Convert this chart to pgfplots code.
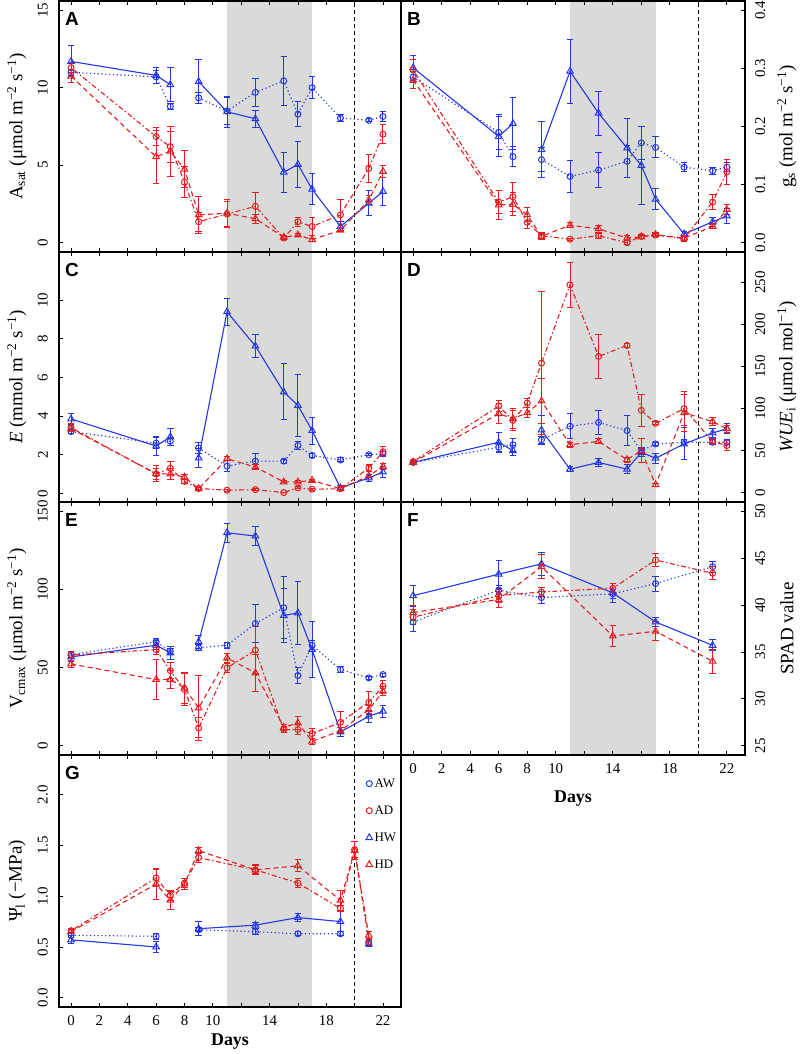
\documentclass[border=0pt]{standalone}
\usepackage{fontspec}
\setmainfont{Liberation Serif}
\newfontfamily\lsans{Liberation Sans}
\usepackage{pgfplots}
\pgfplotsset{compat=1.18}

\definecolor{cb}{RGB}{35,55,228}
\definecolor{cr}{RGB}{228,30,30}
\definecolor{band}{RGB}{218,218,218}

\tikzset{letter/.style={anchor=north west, xshift=6bp, yshift=-11bp, inner sep=0pt, font=\lsans\bfseries\fontsize{19}{19}\selectfont}}

\pgfplotsset{
  panel/.style={
    scale only axis, xmin=-0.85, xmax=23.27,
    axis on top, clip=true, unbounded coords=jump,
    tick align=inside, major tick length=4bp,
    xtick={0,2,...,22}, xticklabels={}, xtick pos=both,
    axis line style={line width=1.2bp, black},
    tick style={line width=0.8bp, black},
    every tick label/.append style={font=\fontsize{15}{15}\selectfont},
    /pgf/number format/assume math mode=true,
  },
  leftp/.style={panel, ytick pos=left,
    yticklabel style={rotate=90, anchor=south, inner sep=0pt}, yticklabel shift=11bp,
    every axis y label/.style={at={([xshift=-42bp]rel axis cs:0,0.5)}, rotate=90, anchor=center, font=\fontsize{19}{19}\selectfont}},
  rightp/.style={panel, ytick pos=right, yticklabel pos=right,
    yticklabel style={rotate=90, anchor=north, inner sep=0pt}, yticklabel shift=10bp,
    every axis y label/.style={at={([xshift=42bp]rel axis cs:1,0.5)}, rotate=90, anchor=center, font=\fontsize{19}{19}\selectfont}},
  bottomx/.style={xticklabels={0,2,4,6,8,10,,14,,18,,22},
    xticklabel style={anchor=north, inner sep=0pt}, xticklabel shift=8bp, xlabel={Days}},
  ser/.style={line width=1.1bp, mark size=3bp,
    error bars/y dir=both, error bars/y explicit,
    error bars/error bar style={solid, line width=1bp},
    error bars/error mark options={solid, line width=1bp, mark size=3.2bp, rotate=90}},
  aw/.style={ser, color=cb, dash pattern=on 1.2bp off 2.6bp, mark=o, mark options={solid, line width=1bp}, error bars/error bar style={color=cb}},
  ad/.style={ser, color=cr, dash pattern=on 1.5bp off 2.5bp on 5bp off 2.5bp, mark=o, mark options={solid, line width=1bp}, error bars/error bar style={color=cr}},
  hw/.style={ser, color=cb, solid, mark=triangle, mark size=3.8bp, mark options={solid, line width=1bp}, error bars/error bar style={color=cb}},
  hd/.style={ser, color=cr, dash pattern=on 5bp off 3.5bp, mark=triangle, mark size=3.8bp, mark options={solid, line width=1bp}, error bars/error bar style={color=cr}},
}

\newcommand{\decor}{%
  \fill[band] ({axis cs:11,0} |- {rel axis cs:0,0}) rectangle ({axis cs:17,0} |- {rel axis cs:0,1});
  \draw[black, line width=1bp, dash pattern=on 4bp off 3bp] ({axis cs:20,0} |- {rel axis cs:0,0}) -- ({axis cs:20,0} |- {rel axis cs:0,1});
}

\begin{document}
\begin{tikzpicture}
\path[use as bounding box] (0,0) rectangle (800bp,-1054bp);

% ---------------- A ----------------
\begin{axis}[leftp, at={(59bp,-1bp)}, anchor=north west, width=342bp, height=251bp,
  ymin=-0.6, ymax=15.6, ytick={0,5,10,15},
  ylabel={A\textsubscript{sat} (μmol m\textsuperscript{−2} s\textsuperscript{−1})}]
\decor
\addplot[aw] table[x=d,y=v,y error=e] {
d v e
0 11.0 0.2
6 10.7 0.4
7 8.8 0.2
8 nan 0
9 9.35 0.35
11 8.5 0.9
13 9.7 0.9
15 10.45 1.6
16 8.3 0.8
17 10.0 0.7
19 8.05 0.2
21 7.9 0.1
22 8.15 0.3
};
\addplot[hw] table[x=d,y=v,y error=e] {
d v e
0 11.7 1.0
6 10.8 0.5
7 10.2 1.1
8 nan 0
9 10.4 1.4
11 8.45 1.0
13 8.0 0.55
15 4.55 1.3
16 5.05 1.5
17 3.45 1.0
19 1.05 0.3
21 2.55 0.8
22 3.3 0.9
};
\addplot[ad] table[x=d,y=v,y error=e] {
d v e
0 11.3 0.3
6 6.85 0.6
7 6.2 1.0
8 3.9 1.0
9 1.35 0.6
11 1.85 0.8
13 2.35 0.9
15 0.3 0.1
16 1.35 0.3
17 1.05 0.6
19 1.8 1.0
21 4.8 0.9
22 7.0 0.6
};
\addplot[hd] table[x=d,y=v,y error=e] {
d v e
0 10.75 0.4
6 5.55 1.7
7 5.9 1.6
8 4.75 1.2
9 1.8 1.2
11 1.9 0.9
13 1.55 0.3
15 0.35 0.1
16 0.5 0.1
17 0.2 0.1
19 0.8 0.1
21 2.75 0.3
22 4.6 0.4
};
\node[letter] at (rel axis cs:0,1) {A};
\end{axis}

% ---------------- B ----------------
\begin{axis}[rightp, at={(401bp,-1bp)}, anchor=north west, width=344bp, height=251bp,
  ymin=-0.016, ymax=0.416, ytick={0,0.1,0.2,0.3,0.4}, yticklabels={0.0,0.1,0.2,0.3,0.4},
  ylabel={g\textsubscript{s} (mol m\textsuperscript{−2} s\textsuperscript{−1})}]
\decor
\addplot[aw] table[x=d,y=v,y error=e] {
d v e
0 0.285 0.01
6 0.19 0.03
7 0.148 0.017
8 nan 0
9 0.143 0.02
11 0.114 0.028
13 0.125 0.03
15 0.14 0.027
16 0.172 0.028
17 0.164 0.018
19 0.13 0.008
21 0.124 0.006
22 0.13 0.008
};
\addplot[hw] table[x=d,y=v,y error=e] {
d v e
0 0.301 0.022
6 0.183 0.035
7 0.205 0.045
8 nan 0
9 0.16 0.048
11 0.295 0.055
13 0.223 0.038
15 0.163 0.05
16 0.133 0.067
17 0.075 0.018
19 0.015 0.005
21 0.036 0.008
22 0.046 0.013
};
\addplot[ad] table[x=d,y=v,y error=e] {
d v e
0 0.297 0.018
6 0.07 0.02
7 0.079 0.025
8 0.035 0.01
9 0.012 0.005
11 0.006 0.002
13 0.012 0.004
15 0.0 0.003
16 0.011 0.003
17 0.013 0.003
19 0.007 0.005
21 0.07 0.013
22 0.122 0.022
};
\addplot[hd] table[x=d,y=v,y error=e] {
d v e
0 0.28 0.015
6 0.065 0.025
7 0.066 0.02
8 0.048 0.012
9 0.011 0.005
11 0.03 0.004
13 0.024 0.006
15 0.008 0.005
16 0.01 0.003
17 0.014 0.004
19 0.008 0.004
21 0.028 0.003
22 0.057 0.008
};
\node[letter] at (rel axis cs:0,1) {B};
\end{axis}

% ---------------- C ----------------
\begin{axis}[leftp, at={(59bp,-252bp)}, anchor=north west, width=342bp, height=250bp,
  ymin=-0.45, ymax=12.5, ytick={0,2,4,6,8,10},
  ylabel={\textit{E} (mmol m\textsuperscript{−2} s\textsuperscript{−1})}]
\decor
\addplot[aw] table[x=d,y=v,y error=e] {
d v e
0 3.2 0.1
6 2.6 0.3
7 2.7 0.2
8 nan 0
9 2.35 0.3
11 1.41 0.3
13 1.67 0.4
15 1.67 0.1
16 2.48 0.2
17 1.96 0.1
19 1.73 0.1
21 2.0 0.05
22 2.05 0.1
};
\addplot[hw] table[x=d,y=v,y error=e] {
d v e
0 3.85 0.3
6 2.45 0.5
7 2.92 0.45
8 nan 0
9 1.83 0.5
11 9.4 0.7
13 7.63 0.6
15 5.25 1.45
16 4.55 1.6
17 3.25 0.7
19 0.28 0.1
21 0.8 0.2
22 1.1 0.3
};
\addplot[ad] table[x=d,y=v,y error=e] {
d v e
0 3.4 0.2
6 1.0 0.3
7 1.3 0.35
8 0.62 0.1
9 0.25 0.05
11 0.16 0.05
13 0.19 0.05
15 0.04 0.02
16 0.28 0.05
17 0.21 0.05
19 0.24 0.05
21 1.31 0.2
22 2.15 0.25
};
\addplot[hd] table[x=d,y=v,y error=e] {
d v e
0 3.35 0.15
6 1.02 0.4
7 1.0 0.3
8 0.84 0.15
9 0.24 0.05
11 1.79 0.1
13 1.36 0.15
15 0.59 0.05
16 0.59 0.05
17 0.67 0.05
19 0.24 0.05
21 0.9 0.1
22 1.39 0.15
};
\node[letter] at (rel axis cs:0,1) {C};
\end{axis}

% ---------------- D ----------------
\begin{axis}[rightp, at={(401bp,-252bp)}, anchor=north west, width=344bp, height=250bp,
  ymin=-11, ymax=286, ytick={0,50,100,150,200,250},
  ylabel={\textit{WUE}\textsubscript{i} (μmol mol\textsuperscript{−1})}]
\decor
\addplot[aw] table[x=d,y=v,y error=e] {
d v e
0 36 1
6 54 5
7 57 8
8 nan 0
9 63 4
11 79 15
13 83.5 14
15 73.8 18
16 49.6 4
17 58 2
19 60 3
21 60 3
22 60 3
};
\addplot[hw] table[x=d,y=v,y error=e] {
d v e
0 36 1
6 60 12
7 50 6
8 nan 0
9 74.5 17
11 28 3
13 36 5
15 28 5
16 48 5
17 41 6
19 58 19
21 71 5
22 76 6
};
\addplot[ad] table[x=d,y=v,y error=e] {
d v e
0 37 1
6 103 7
7 86 12
8 106.5 5
9 154 85
11 247 27
13 162 26
15 175 2
16 98 19
17 82.5 2
19 100 20
21 61 3
22 56 6
};
\addplot[hd] table[x=d,y=v,y error=e] {
d v e
0 36 1
6 94 12
7 88 12
8 95 6
9 109 27
11 57 3
13 61 3
15 39.3 3
16 50 14
17 9.5 2
19 95 22
21 84.5 5
22 76 4
};
\node[letter] at (rel axis cs:0,1) {D};
\end{axis}

% ---------------- E ----------------
\begin{axis}[leftp, at={(59bp,-502bp)}, anchor=north west, width=342bp, height=253bp,
  ymin=-6, ymax=156, ytick={0,50,100,150},
  ylabel={V\textsubscript{cmax} (μmol m\textsuperscript{−2} s\textsuperscript{−1})}]
\decor
\addplot[aw] table[x=d,y=v,y error=e] {
d v e
0 58.3 2
6 66.5 2
7 60.5 2
8 nan 0
9 62.6 2
11 64.3 2
13 78.2 12
15 88.3 20
16 44.9 5
17 64.3 3
19 48.7 2
21 43.4 1
22 45.5 1
};
\addplot[hw] table[x=d,y=v,y error=e] {
d v e
0 56.8 3
6 64.3 3
7 59.4 4
8 nan 0
9 66.5 4
11 136.3 6
13 134.2 6
15 83.3 17
16 85 20
17 61.5 18
19 8.8 3
21 18.8 4
22 22 4
};
\addplot[ad] table[x=d,y=v,y error=e] {
d v e
0 58 2
6 61.5 3
7 48 5
8 36 10
9 11.3 6.4
11 49.8 3
13 61.1 15
15 10.3 2
16 10.3 3
17 7.7 3
19 14.9 7
21 27.8 7
22 38 4
};
\addplot[hd] table[x=d,y=v,y error=e] {
d v e
0 52.3 2
6 42.3 12.6
7 42.3 6
8 37 10
9 24.1 21
11 56.2 3
13 46.6 12
15 11.7 2
16 14.5 4
17 2.8 2
19 9.5 2
21 23 3
22 34.8 3
};
\node[letter] at (rel axis cs:0,1) {E};
\end{axis}

% ---------------- F ----------------
\begin{axis}[rightp, bottomx, at={(401bp,-502bp)}, anchor=north west, width=344bp, height=253bp,
  ymin=24, ymax=51, ytick={25,30,35,40,45,50},
  every axis x label/.style={at={([yshift=-44bp]rel axis cs:0.5,0)}, anchor=center, font=\bfseries\fontsize{18}{18}\selectfont},
  ylabel={SPAD value}]
\decor
\addplot[aw] table[x=d,y=v,y error=e] {
d v e
0 38.2 1.0
6 41.6 0.5
9 40.8 0.6
14 41.2 0.5
17 42.3 0.8
21 44.1 0.6
};
\addplot[hw] table[x=d,y=v,y error=e] {
d v e
0 41.0 1.1
6 43.3 1.5
9 44.4 1.2
14 41.3 1.0
17 38.2 0.5
21 35.7 0.6
};
\addplot[ad] table[x=d,y=v,y error=e] {
d v e
0 38.7 0.8
6 41.0 0.7
9 41.4 0.5
14 41.8 0.5
17 44.8 0.7
21 43.4 0.7
};
\addplot[hd] table[x=d,y=v,y error=e] {
d v e
0 39.2 0.8
6 40.6 0.9
9 44.1 1.3
14 36.7 1.1
17 37.2 1.0
21 34.0 1.3
};
\node[letter] at (rel axis cs:0,1) {F};
\end{axis}

% ---------------- G ----------------
\begin{axis}[leftp, bottomx, at={(59bp,-755bp)}, anchor=north west, width=342bp, height=252bp,
  ymin=-0.092, ymax=2.392, ytick={0,0.5,1,1.5,2}, yticklabels={0.0,0.5,1.0,1.5,2.0},
  every axis x label/.style={at={([yshift=-35bp]rel axis cs:0.5,0)}, anchor=center, font=\bfseries\fontsize{18}{18}\selectfont},
  ylabel={Ψ\textsubscript{l} (−MPa)},
  legend style={at={(rel axis cs:0.897,0.915)}, anchor=north west, draw=none, fill=none,
    font=\fontsize{13}{13}\selectfont, row sep=13bp, inner sep=0pt},
  legend cell align=left]
\addlegendimage{legend image code/.code={\draw[cb, line width=1bp] plot[mark=o, mark size=3bp] coordinates {(3bp,0bp)};}}
\addlegendentry{AW}
\addlegendimage{legend image code/.code={\draw[cr, line width=1bp] plot[mark=o, mark size=3bp] coordinates {(3bp,0bp)};}}
\addlegendentry{AD}
\addlegendimage{legend image code/.code={\draw[cb, line width=1bp] plot[mark=triangle, mark size=3.8bp] coordinates {(3bp,0bp)};}}
\addlegendentry{HW}
\addlegendimage{legend image code/.code={\draw[cr, line width=1bp] plot[mark=triangle, mark size=3.8bp] coordinates {(3bp,0bp)};}}
\addlegendentry{HD}
\decor
\addplot[aw] table[x=d,y=v,y error=e] {
d v e
0 0.615 0.02
6 0.605 0.03
7 nan 0
9 0.67 0.02
13 0.65 0.03
16 0.63 0.02
19 0.63 0.02
20 nan 0
21 0.54 0.02
};
\addplot[hw] table[x=d,y=v,y error=e] {
d v e
0 0.57 0.04
6 0.5 0.05
7 nan 0
9 0.68 0.07
13 0.715 0.03
16 0.79 0.04
19 0.75 0.1
20 nan 0
21 0.53 0.03
};
\addplot[ad] table[x=d,y=v,y error=e] {
d v e
0 0.66 0.02
6 1.18 0.08
7 1.01 0.05
8 1.13 0.04
9 1.38 0.05
13 1.26 0.04
16 1.13 0.04
19 0.88 0.03
20 1.46 0.08
21 0.55 0.03
};
\addplot[hd] table[x=d,y=v,y error=e] {
d v e
0 0.65 0.02
6 1.12 0.15
7 0.96 0.09
8 1.12 0.05
9 1.45 0.03
13 1.26 0.05
16 1.3 0.06
19 0.96 0.1
20 1.45 0.09
21 0.615 0.04
};
\node[letter] at (rel axis cs:0,1) {G};
\end{axis}

\end{tikzpicture}
\end{document}
